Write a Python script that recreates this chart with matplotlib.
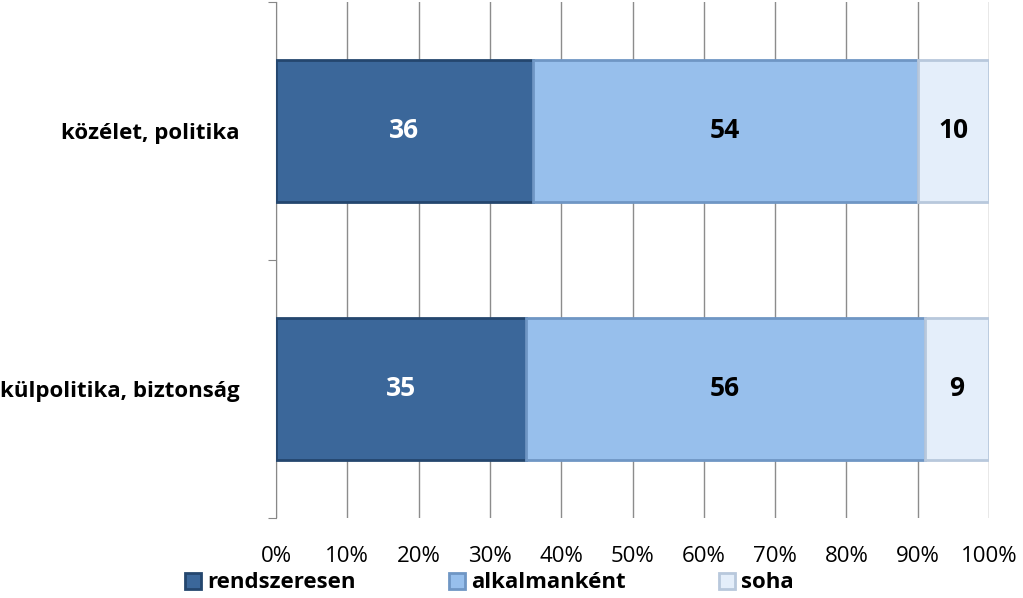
import matplotlib
matplotlib.use("Agg")
import matplotlib.pyplot as plt
import numpy as np

categories = ["közélet, politika", "külpolitika, biztonság"]
series_names = ["rendszeresen", "alkalmanként", "soha"]
rendszeresen = [36, 35]
alkalmankent = [54, 56]
soha = [10, 9]
xticklabels = ["0%", "10%", "20%", "30%", "40%", "50%", "60%", "70%", "80%", "90%", "100%"]

colors = ["#3B679A", "#97BFEC", "#E4EEFA"]
edges = ["#24466E", "#6F96C4", "#B8C8DC"]
txtcol = ["white", "black", "black"]

plt.rcParams['font.family'] = ['Open Sans', 'DejaVu Sans']
fig = plt.figure(figsize=(10.23, 5.98), dpi=100)
ax = fig.add_axes([276/1023, 1-518/598, 713/1023, 516/598])

ypos = np.array([0, 1])
left = np.zeros(2)
handles = []
for vals, c, e, tc, name in zip([rendszeresen, alkalmankent, soha], colors, edges, txtcol, series_names):
    vals = np.array(vals, dtype=float)
    h = ax.barh(ypos, vals, left=left, height=0.55, color=c, edgecolor=e, linewidth=2, label=name, zorder=3)
    handles.append(h)
    for y, l, v in zip(ypos, left, vals):
        ax.text(l + v/2, y, f"{int(v)}", ha="center", va="center", color=tc,
                fontsize=19, fontweight="bold", zorder=4)
    left += vals

ax.set_xlim(0, 100)
ax.set_ylim(1.5, -0.5)
ax.set_xticks(np.arange(0, 101, 10))
ax.set_xticklabels(xticklabels, fontsize=16)
ax.tick_params(axis='x', length=0, pad=20)
ax.set_yticks([-0.5, 0.5, 1.5])
ax.set_yticklabels([])
ax.tick_params(axis='y', direction='out', length=6, color="#888888")
ax.set_yticks(ypos, minor=True)
ax.set_yticklabels(categories, minor=True, fontsize=16, fontweight="bold")
ax.tick_params(axis='y', which='minor', length=0, pad=26)
ax.grid(axis='x', color="#8C8C8C", linewidth=1, zorder=0)
for s in ["top", "right", "bottom"]:
    ax.spines[s].set_visible(False)
ax.spines["left"].set_color("#888888")

fig.legend(handles=handles, labels=series_names, loc="center left", bbox_to_anchor=(185/1023, 1-583/598),
           ncol=3, frameon=False, prop={'weight': 'bold', 'size': 16}, handlelength=0.7, handleheight=0.7,
           columnspacing=4.2, handletextpad=0.3, borderpad=0, borderaxespad=0)

fig.savefig("out.png", dpi=100)
